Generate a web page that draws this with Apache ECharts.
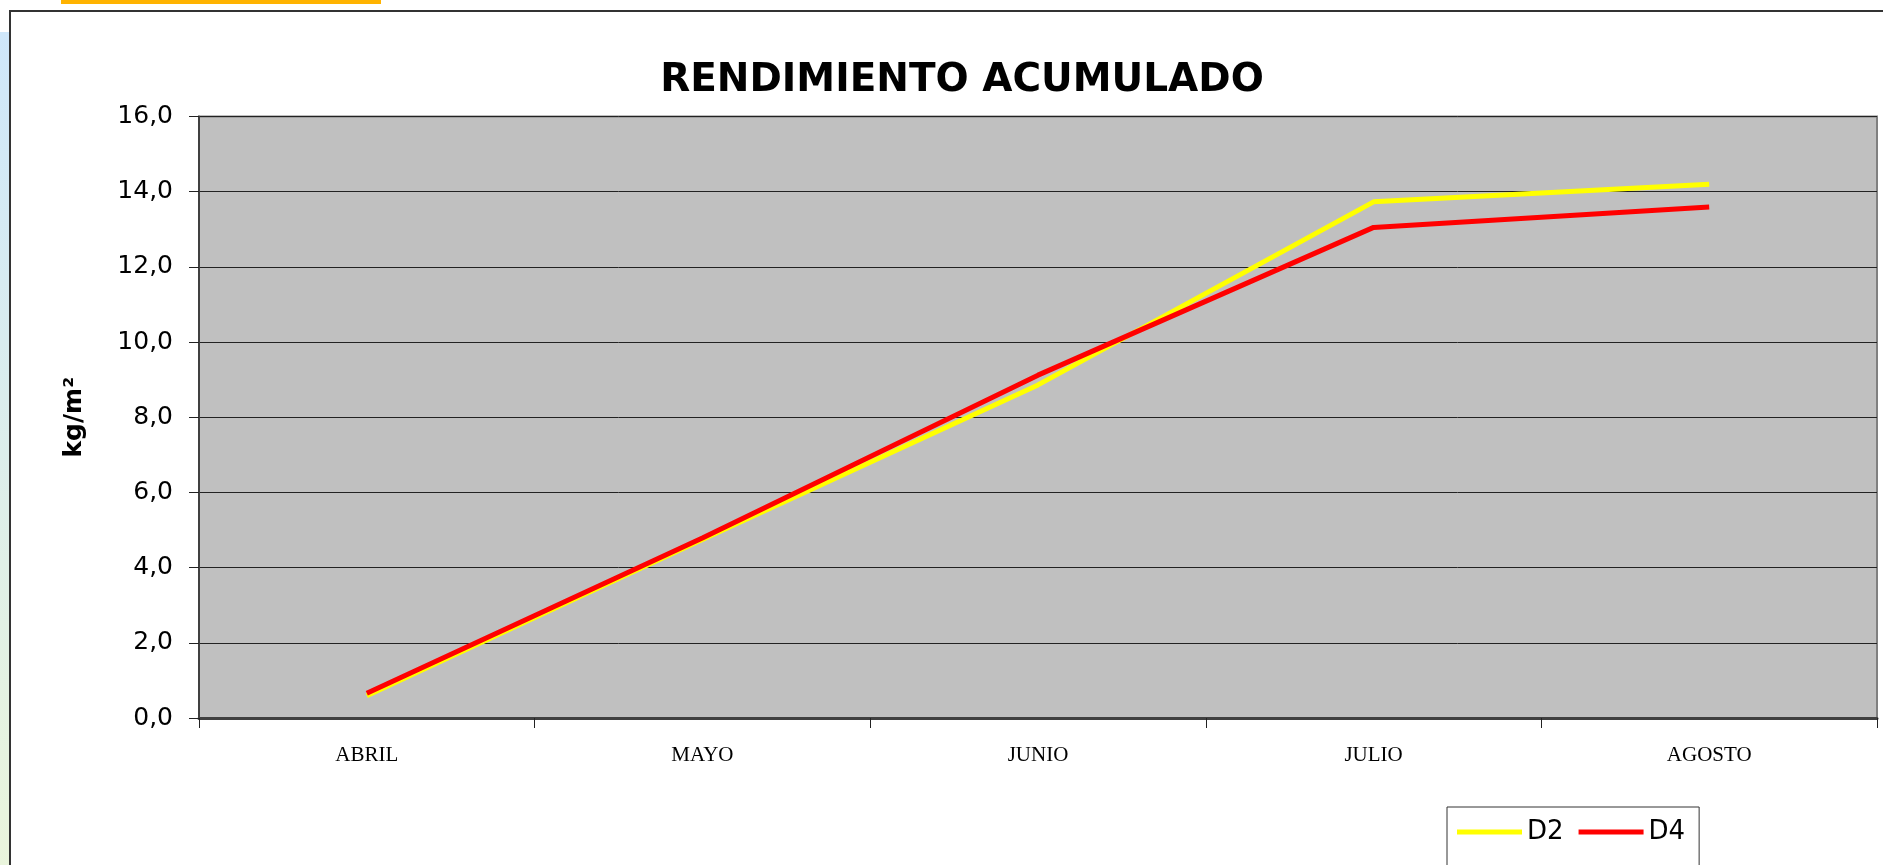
<!DOCTYPE html>
<html>
<head>
<meta charset="utf-8">
<script src="https://cdn.jsdelivr.net/npm/echarts@6/dist/echarts.min.js"></script>
<style>
  html, body { margin: 0; padding: 0; background: #fff; }
  #chart { width: 1883px; height: 865px; }
</style>
</head>
<body>
<div id="chart"></div>
<script>
// datos
const months = ['ABRIL', 'MAYO', 'JUNIO', 'JULIO', 'AGOSTO']
const d2 = [0.59, 4.75, 8.86, 13.73, 14.20]
const d4 = [0.66, 4.79, 9.12, 13.05, 13.59]
const yTicks = [0, 2, 4, 6, 8, 10, 12, 14, 16]

const comic = '"Comic Sans MS", "DejaVu Sans", sans-serif'

const myChart = echarts.init(document.getElementById('chart'))

const option = {
  animation: false,
  backgroundColor: '#fff',
  title: {
    text: 'RENDIMIENTO ACUMULADO',
    left: 957,
    top: 56,
    textAlign: 'center',
    textStyle: { fontFamily: comic, fontWeight: 'bold', fontSize: 39, color: '#000' }
  },
  graphic: [
    // marco de la diapositiva
    {
      type: 'rect', z: -10, silent: true,
      shape: { x: 0, y: 32, width: 9, height: 840 },
      style: {
        fill: new echarts.graphic.LinearGradient(0, 0, 0, 1, [
          { offset: 0, color: '#cfe7fa' },
          { offset: 1, color: '#eaf5dc' }
        ])
      }
    },
    { type: 'rect', z: -10, silent: true, shape: { x: 61, y: 0, width: 320, height: 4 }, style: { fill: '#ffb300' } },
    { type: 'rect', z: -9, silent: true, shape: { x: 10, y: 11, width: 1900, height: 900 }, style: { fill: 'none', stroke: '#333', lineWidth: 2 } }
  ],
  legend: {
    data: ['D2', 'D4'],
    left: 1447,
    top: 807,
    orient: 'horizontal',
    backgroundColor: '#fff',
    borderColor: '#333',
    borderWidth: 1,
    padding: [12, 14, 40, 10],
    itemWidth: 65,
    itemHeight: 5,
    itemGap: 15,
    icon: 'rect',
    textStyle: { fontFamily: comic, fontSize: 26, color: '#000' }
  },
  grid: {
    left: 199,
    right: 6,
    top: 116.5,
    bottom: 147,
    show: true,
    backgroundColor: '#c0c0c0',
    borderColor: '#808080',
    borderWidth: 2
  },
  xAxis: {
    type: 'category',
    data: months,
    boundaryGap: true,
    axisLine: { lineStyle: { color: '#404040', width: 3 } },
    axisTick: { show: true, length: 10, lineStyle: { color: '#222' } },
    axisLabel: {
      margin: 27,
      fontFamily: '"Liberation Serif", "Times New Roman", serif',
      fontSize: 21,
      color: '#000'
    }
  },
  yAxis: {
    type: 'value',
    min: yTicks[0],
    max: yTicks[yTicks.length - 1],
    interval: 2,
    name: 'kg/m²',
    nameLocation: 'middle',
    nameRotate: 90,
    nameGap: 112,
    nameTextStyle: { fontFamily: '"DejaVu Sans", sans-serif', fontWeight: 'bold', fontSize: 25, color: '#000' },
    axisLine: { show: true, lineStyle: { color: '#404040', width: 2 } },
    axisTick: { show: true, length: 10, lineStyle: { color: '#222' } },
    splitLine: { lineStyle: { color: '#222', width: 1 } },
    axisLabel: {
      margin: 26,
      fontFamily: comic,
      fontSize: 25,
      color: '#000',
      formatter: v => v.toFixed(1).replace('.', ',')
    }
  },
  series: [
    {
      name: 'D2',
      type: 'line',
      data: d2,
      symbol: 'none',
      color: '#ffff00',
      lineStyle: { color: '#ffff00', width: 5 },
      z: 3
    },
    {
      name: 'D4',
      type: 'line',
      data: d4,
      symbol: 'none',
      color: '#ff0000',
      lineStyle: { color: '#ff0000', width: 5 },
      z: 4
    }
  ]
}
option && myChart.setOption(option)
</script>
</body>
</html>
